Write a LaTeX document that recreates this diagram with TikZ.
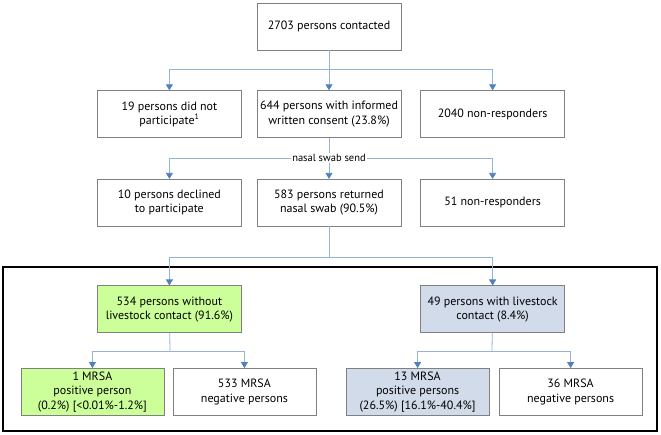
\documentclass[tikz,border=0pt]{standalone}
\usepackage{fontspec}
\setmainfont{PT Sans}
\usetikzlibrary{positioning,arrows.meta}
\definecolor{linkblue}{RGB}{149,179,215}
\definecolor{tipblue}{RGB}{79,129,189}
\definecolor{boxgreen}{RGB}{204,255,153}
\definecolor{boxblue}{RGB}{209,219,234}
\tikzset{
  box/.style = {draw=gray, line width=0.6pt, minimum width=144pt, minimum height=47pt,
                align=center, font=\fontsize{12pt}{14.3pt}\selectfont, inner sep=2pt},
  link/.style = {draw=linkblue, line width=0.8pt},
  arr/.style = {link, -{Triangle[width=7pt,length=6pt,color=tipblue]}},
}

\begin{document}
\begin{tikzpicture}[x=1pt, y=-1pt]
\useasboundingbox (0,0) rectangle (661,435);

\node [box] (top) at (329,26.5) {2703 persons contacted};
\node [box, below = 40pt of top] (r1m) {644 persons with informed\\written consent (23.8\%)};
\node [box, left = 15pt of r1m] (r1l) {19 persons did not\\participate\textsuperscript{1}};
\node [box, right = 19pt of r1m] (r1r) {2040 non-responders};
\node [box, below = 41pt of r1m] (r2m) {583 persons returned\\nasal swab (90.5\%)};
\node [box, left = 15pt of r2m] (r2l) {10 persons declined\\to participate};
\node [box, right = 19pt of r2m] (r2r) {51 non-responders};

\draw [line width=1.2pt] (3,267) rectangle (657,431);

\node [box, fill=boxgreen, below = 59pt of r2l] (nolive) {534 persons without\\livestock contact (91.6\%)};
\node [box, fill=boxblue, below = 59pt of r2r] (live) {49 persons with livestock\\contact (8.4\%)};
\node [box, fill=boxgreen, minimum width=143pt, below = 35pt of nolive, xshift=-77pt] (gpos) {1 MRSA\\positive person\\(0.2\%) [<0.01\%-1.2\%]};
\node [box, minimum width=143pt, below = 35pt of nolive, xshift=75pt] (gneg) {533 MRSA\\negative persons};
\node [box, fill=boxblue, minimum width=143pt, below = 35pt of live, xshift=-75pt] (bpos) {13 MRSA\\positive persons\\(26.5\%) [16.1\%-40.4\%]};
\node [box, minimum width=143pt, below = 35pt of live, xshift=78pt] (bneg) {36 MRSA\\negative persons};

\coordinate (s1) at (329,69);
\coordinate (s3) at (329,257);
\coordinate (s4) at (170,351);
\coordinate (s5) at (492,351);

\draw [link] (top) -- (s1);
\draw [arr] (s1) -| (r1l);
\draw [arr] (s1) -- (r1m);
\draw [arr] (s1) -| (r1r);

\node [fill=white, inner sep=1.5pt, font=\fontsize{10.5pt}{12pt}\selectfont] (send) at (329,158) {nasal swab send};
\draw [link] (r1m) -- (send);
\draw [arr] (send.west) -| (r2l);
\draw [arr] (send) -- (r2m);
\draw [arr] (send.east) -| (r2r);

\draw [link] (r2m) -- (s3);
\draw [arr] (s3) -| (nolive);
\draw [arr] (s3) -| (live);

\draw [link] (nolive) -- (s4);
\draw [arr] (s4) -| (gpos);
\draw [arr] (s4) -| (gneg);
\draw [link] (live) -- (s5);
\draw [arr] (s5) -| (bpos);
\draw [arr] (s5) -| (bneg);
\end{tikzpicture}
\end{document}
